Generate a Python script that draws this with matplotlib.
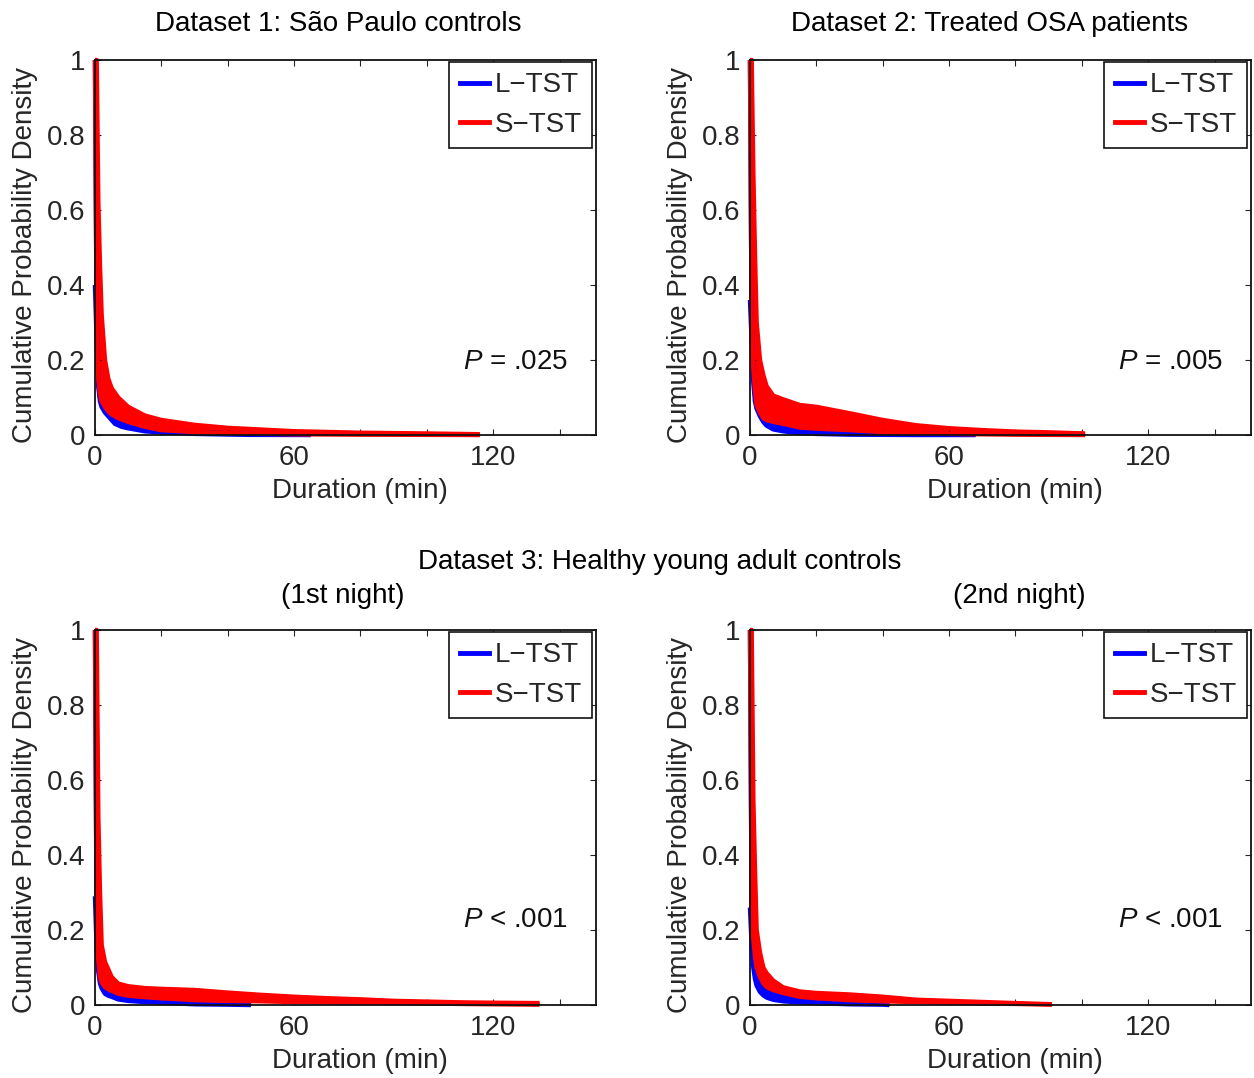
import numpy as np
import matplotlib.pyplot as plt
from matplotlib.lines import Line2D

plt.rcParams['font.family'] = ['Liberation Sans', 'DejaVu Sans']
plt.rcParams['mathtext.fontset'] = 'custom'
plt.rcParams['mathtext.it'] = 'Liberation Sans:italic'
plt.rcParams['mathtext.rm'] = 'Liberation Sans'

# ---- data (duration in min, cumulative probability) ----
# Dataset 1: Sao Paulo controls
d1_red_x = [0, 0.5, 1, 1.5, 2, 3, 4, 5, 7, 10, 15, 20, 30, 40, 60, 80, 100, 116]
d1_red_up = [1, 1, 0.62, 0.45, 0.32, 0.2, 0.15, 0.125, 0.1, 0.075, 0.052, 0.04, 0.027, 0.019, 0.01, 0.006, 0.004, 0.002]
d1_red_lo = [1, 0.3, 0.15, 0.11, 0.09, 0.075, 0.063, 0.055, 0.045, 0.035, 0.022, 0.013, 0.008, 0.005, 0.002, 0.001, 0.0005, 0.0]
d1_blue_x = [0, 0.5, 1, 1.5, 2, 3, 4, 6, 8, 10, 15, 20, 30, 46, 65]
d1_blue_up = [1, 0.3, 0.14, 0.1, 0.085, 0.07, 0.06, 0.045, 0.037, 0.03, 0.02, 0.012, 0.007, 0.003, 0.001]
d1_blue_lo = [0.4, 0.25, 0.13, 0.09, 0.075, 0.06, 0.05, 0.03, 0.022, 0.018, 0.01, 0.007, 0.003, 0.0005, 0.0]

# Dataset 2: Treated OSA patients
d2_red_x = [0, 0.5, 1, 1.5, 2, 3, 4, 5, 7, 10, 15, 20, 30, 40, 50, 60, 70, 80, 90, 101]
d2_red_up = [1, 1, 0.7, 0.48, 0.3, 0.2, 0.16, 0.13, 0.105, 0.095, 0.08, 0.075, 0.058, 0.04, 0.026, 0.018, 0.013, 0.009, 0.007, 0.004]
d2_red_lo = [1, 0.3, 0.18, 0.12, 0.08, 0.06, 0.045, 0.04, 0.035, 0.03, 0.02, 0.017, 0.013, 0.008, 0.005, 0.003, 0.002, 0.001, 0.0005, 0.0]
d2_blue_x = [0, 0.5, 1, 1.5, 2, 3, 4, 5, 7, 10, 15, 20, 30, 40, 50, 60, 68]
d2_blue_up = [1, 0.3, 0.17, 0.11, 0.075, 0.055, 0.04, 0.035, 0.03, 0.025, 0.017, 0.013, 0.01, 0.006, 0.004, 0.002, 0.001]
d2_blue_lo = [0.36, 0.25, 0.14, 0.09, 0.07, 0.05, 0.035, 0.025, 0.015, 0.01, 0.005, 0.003, 0.001, 0.0005, 0, 0, 0]

# Dataset 3, 1st night
d3_red_x = [0, 0.5, 1, 1.5, 2, 3, 4, 5, 7, 10, 15, 20, 30, 40, 50, 60, 70, 80, 90, 100, 110, 120, 134]
d3_red_up = [1, 1, 0.5, 0.3, 0.16, 0.115, 0.095, 0.075, 0.057, 0.05, 0.045, 0.043, 0.04, 0.033, 0.027, 0.022, 0.018, 0.015, 0.011, 0.009, 0.007, 0.006, 0.005]
d3_red_lo = [1, 0.25, 0.12, 0.075, 0.06, 0.048, 0.042, 0.038, 0.03, 0.025, 0.021, 0.018, 0.013, 0.011, 0.01, 0.008, 0.007, 0.006, 0.005, 0.004, 0.003, 0.002, 0.001]
d3_blue_x = [0, 0.5, 1, 1.5, 2, 3, 4, 5, 7, 10, 15, 20, 30, 40, 47]
d3_blue_up = [1, 0.2, 0.1, 0.07, 0.055, 0.045, 0.038, 0.033, 0.027, 0.022, 0.017, 0.014, 0.01, 0.007, 0.005]
d3_blue_lo = [0.29, 0.15, 0.09, 0.058, 0.045, 0.03, 0.025, 0.022, 0.015, 0.011, 0.008, 0.006, 0.002, 0.001, 0.0]

# Dataset 3, 2nd night
d4_red_x = [0, 0.5, 1, 1.5, 2, 3, 4, 5, 7, 10, 15, 20, 30, 40, 50, 60, 70, 80, 91]
d4_red_up = [1, 1, 0.55, 0.36, 0.2, 0.14, 0.1, 0.085, 0.065, 0.047, 0.036, 0.032, 0.028, 0.022, 0.014, 0.011, 0.008, 0.005, 0.002]
d4_red_lo = [1, 0.3, 0.18, 0.13, 0.1, 0.075, 0.058, 0.048, 0.04, 0.032, 0.022, 0.018, 0.013, 0.01, 0.008, 0.006, 0.004, 0.003, 0.001]
d4_blue_x = [0, 0.5, 1, 1.5, 2, 3, 4, 5, 7, 10, 15, 20, 30, 40, 42]
d4_blue_up = [1, 0.25, 0.14, 0.1, 0.08, 0.06, 0.048, 0.04, 0.032, 0.025, 0.018, 0.014, 0.01, 0.006, 0.004]
d4_blue_lo = [0.26, 0.16, 0.1, 0.07, 0.052, 0.035, 0.026, 0.02, 0.014, 0.01, 0.007, 0.005, 0.002, 0.001, 0.0]

p_labels = ['$P$ = .025', '$P$ = .005', '$P$ < .001', '$P$ < .001']
p_ypos = [0.194, 0.194, 0.226, 0.226]
x_ticks = [0, 20, 40, 60, 80, 100, 120, 140]
x_ticklabels = ['0', '', '', '60', '', '', '120', '']
y_ticks = [0, 0.2, 0.4, 0.6, 0.8, 1]
y_ticklabels = ['0', '0.2', '0.4', '0.6', '0.8', '1']

panels = [
    (d1_blue_x, d1_blue_lo, d1_blue_up, d1_red_x, d1_red_lo, d1_red_up),
    (d2_blue_x, d2_blue_lo, d2_blue_up, d2_red_x, d2_red_lo, d2_red_up),
    (d3_blue_x, d3_blue_lo, d3_blue_up, d3_red_x, d3_red_lo, d3_red_up),
    (d4_blue_x, d4_blue_lo, d4_blue_up, d4_red_x, d4_red_lo, d4_red_up),
]

W, H = 1254, 1078
fig = plt.figure(figsize=(W / 100, H / 100), dpi=100)

# axes boxes in pixels: left, top
boxes = [(95, 60), (750, 60), (95, 630), (750, 630)]
aw, ah = 501, 375
txt = '#262626'
fs = 20

for i, (lx, top) in enumerate(boxes):
    ax = fig.add_axes([lx / W, 1 - (top + ah) / H, aw / W, ah / H])
    bx, blo, bup, rx, rlo, rup = panels[i]
    for x, lo, up, c in [(bx, blo, bup, 'blue'), (rx, rlo, rup, 'red')]:
        ax.fill_between(x, lo, up, color=c, lw=0, clip_on=False)
        ax.plot(x, up, color=c, lw=3.2, clip_on=False, solid_capstyle='butt')
        ax.plot(x, lo, color=c, lw=3.2, clip_on=False, solid_capstyle='butt')
    ax.set_xlim(0, 151)
    ax.set_ylim(0, 1)
    ax.set_xticks(x_ticks)
    ax.set_xticklabels(x_ticklabels)
    ax.set_yticks(y_ticks)
    ax.set_yticklabels(y_ticklabels)
    ax.tick_params(direction='in', top=True, right=True, length=4.5, width=0.8,
                   labelsize=fs, colors=txt, pad=7)
    for s in ax.spines.values():
        s.set_linewidth(1.3)
        s.set_color('#111111')
    ax.text(142.5, p_ypos[i], p_labels[i], fontsize=fs, ha='right', va='center', color='#111111')
    handles = [Line2D([], [], color='blue', lw=3.5), Line2D([], [], color='red', lw=3.5)]
    leg = ax.legend(handles, ['L\u2212TST', 'S\u2212TST'], loc='upper right',
                    bbox_to_anchor=(0.993, 0.995), borderaxespad=0, fontsize=fs,
                    handlelength=1.05, handletextpad=0.2, labelspacing=0.48,
                    borderpad=0.38, fancybox=False, framealpha=1)
    leg.get_frame().set_edgecolor('#111111')
    leg.get_frame().set_linewidth(1.2)
    for t in leg.get_texts():
        t.set_color(txt)
    # axis labels
    fig.text((lx + 265) / W, 1 - (top + 431) / H, 'Duration (min)', fontsize=fs,
             ha='center', va='center', color=txt)
    fig.text((lx - 70) / W, 1 - (top + 195) / H, 'Cumulative Probability Density',
             fontsize=fs, rotation=90, ha='center', va='center', color=txt)

fig.text(338 / W, 1 - 24 / H, 'Dataset 1: S\u00e3o Paulo controls', fontsize=fs, ha='center', va='center')
fig.text(990 / W, 1 - 24 / H, 'Dataset 2: Treated OSA patients', fontsize=fs, ha='center', va='center')
fig.text(660 / W, 1 - 562 / H, 'Dataset 3: Healthy young adult controls', fontsize=fs, ha='center', va='center')
fig.text(343 / W, 1 - 596 / H, '(1st night)', fontsize=fs, ha='center', va='center')
fig.text(1019 / W, 1 - 596 / H, '(2nd night)', fontsize=fs, ha='center', va='center')

fig.savefig('out.png', dpi=100)
